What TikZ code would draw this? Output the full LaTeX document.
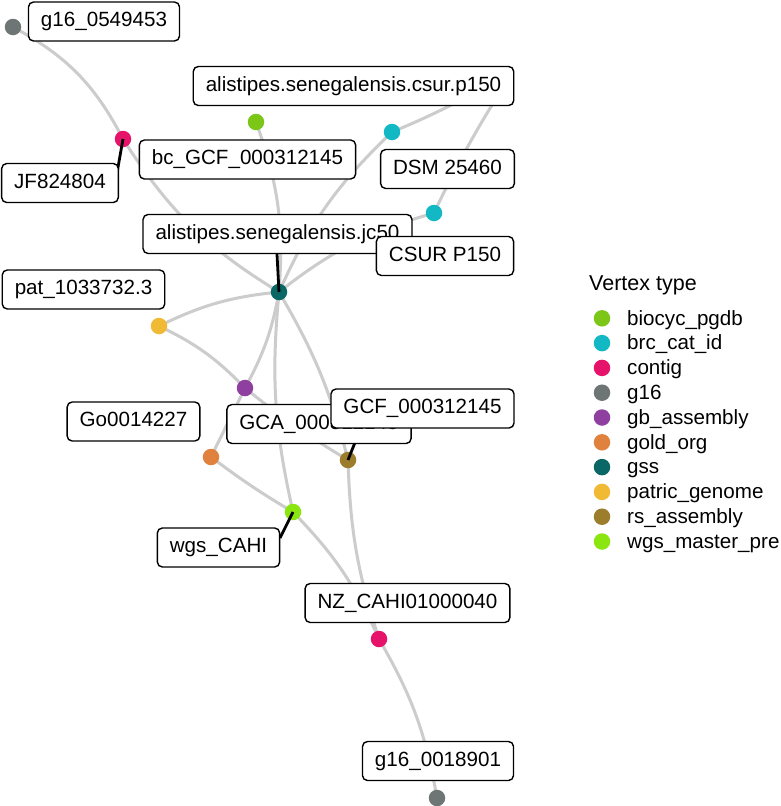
\documentclass[tikz,border=0pt]{standalone}
\usepackage{fontspec}
\setmainfont{Liberation Sans}
\definecolor{edgegray}{HTML}{CCCCCC}
\definecolor{cbiocyc}{HTML}{7CC618}
\definecolor{cbrc}{HTML}{12B9C4}
\definecolor{ccontig}{HTML}{E5136A}
\definecolor{cgsixteen}{HTML}{6E7575}
\definecolor{cgb}{HTML}{8E3FA0}
\definecolor{cgold}{HTML}{E0823D}
\definecolor{cgss}{HTML}{0B6666}
\definecolor{cpatric}{HTML}{F0BA35}
\definecolor{crs}{HTML}{9C7D2C}
\definecolor{cwgs}{HTML}{8BE510}
\begin{document}
\begin{tikzpicture}[x=1pt,y=1pt,
  edge/.style={draw=edgegray,line width=3pt},
  seg/.style={draw=black,line width=2.8pt},
  vtx/.style={circle,inner sep=0pt,minimum size=16.5pt,draw=none},
  lab/.style={draw=black,fill=white,line width=1.4pt,rounded corners=5pt,
    inner xsep=12.5pt,inner ysep=0pt,minimum height=39pt,
    text height=14.8pt,text depth=4.3pt,font=\fontsize{20.6}{24}\selectfont},
  legtext/.style={anchor=base west,inner sep=0pt,font=\fontsize{20.6}{24}\selectfont},
  legtitle/.style={anchor=base west,inner sep=0pt,font=\fontsize{21.5}{26}\selectfont},
]
\useasboundingbox (0,0) rectangle (780,-806);
\fill[white] (0,0) rectangle (780,-806);

% vertex positions
\coordinate (g16a) at (13,-27);
\coordinate (c1) at (123,-139);
\coordinate (bio) at (256,-122);
\coordinate (cy1) at (392,-132);
\coordinate (cy2) at (434,-213);
\coordinate (gss) at (279,-292);
\coordinate (pat) at (159,-326);
\coordinate (gb) at (245,-388);
\coordinate (gold) at (211,-457);
\coordinate (rs) at (348,-460);
\coordinate (wgs) at (293,-512);
\coordinate (c2) at (379,-639);
\coordinate (g16b) at (437,-798);

% edges
\draw[edge] (g16a) to[bend left=17] (c1);
\draw[edge] (c1) to[bend right=13] (gss);
\draw[edge] (bio) to[bend left=12] (gss);
\draw[edge] (cy1) to[bend right=11] (gss);
\draw[edge] (cy2) to[bend right=11] (gss);
\draw[edge] (cy1) .. controls (560,-63) and (525,-20) .. (cy2);
\draw[edge] (pat) to[bend left=10] (gss);
\draw[edge] (pat) to[bend left=10] (gb);
\draw[edge] (gss) to[bend left=9] (gb);
\draw[edge] (gss) to[bend right=9] (wgs);
\draw[edge] (gss) to[bend left=8] (rs);
\draw[edge] (gb) -- (gold);
\draw[edge] (gb) to[bend right=4] (rs);
\draw[edge] (gold) to[bend right=3] (wgs);
\draw[edge] (wgs) to[bend left=10] (c2);
\draw[edge] (rs) to[bend right=8] (c2);
\draw[edge] (c2) to[bend left=10] (g16b);

% vertices
\node[vtx,fill=cgsixteen] (n-g16a) at (g16a) {};
\node[vtx,fill=ccontig] (n-c1) at (c1) {};
\node[vtx,fill=cbiocyc] (n-bio) at (bio) {};
\node[vtx,fill=cbrc] (n-cy1) at (cy1) {};
\node[vtx,fill=cbrc] (n-cy2) at (cy2) {};
\node[vtx,fill=cgss] (n-gss) at (gss) {};
\node[vtx,fill=cpatric] (n-pat) at (pat) {};
\node[vtx,fill=cgb] (n-gb) at (gb) {};
\node[vtx,fill=cgold] (n-gold) at (gold) {};
\node[vtx,fill=crs] (n-rs) at (rs) {};
\node[vtx,fill=cwgs] (n-wgs) at (wgs) {};
\node[vtx,fill=ccontig] (n-c2) at (c2) {};
\node[vtx,fill=cgsixteen] (n-g16b) at (g16b) {};

% label segments
\coordinate (sJF) at (117,-173);
\coordinate (sJC) at (277,-254);
\coordinate (sGCF) at (360,-430);
\coordinate (sWGS) at (280,-538);
\draw[seg] (c1) -- (sJF);
\draw[seg] (gss) -- (sJC);
\draw[seg] (rs) -- (sGCF);
\draw[seg] (wgs) -- (sWGS);

% labels
\node[lab] (l-g16a) at (104,-21.5) {g16\_0549453};
\node[lab] (l-jf) at (60,-183) {JF824804};
\node[lab] (l-csur) at (353.5,-86) {alistipes.senegalensis.csur.p150};
\node[lab] (l-bc) at (247.5,-159.5) {bc\_GCF\_000312145};
\node[lab] (l-dsm) at (447.5,-169) {DSM 25460};
\node[lab] (l-jc) at (277.5,-234) {alistipes.senegalensis.jc50};
\node[lab] (l-csurp) at (445,-256) {CSUR P150};
\node[lab] (l-pat) at (83.5,-289.5) {pat\_1033732.3};
\node[lab] (l-go) at (133.5,-421.5) {Go0014227};
\node[lab] (l-gca) at (319,-424) {GCA\_000312145};
\node[lab] (l-gcf) at (422.5,-408.5) {GCF\_000312145};
\node[lab] (l-wgs) at (218.5,-547.5) {wgs\_CAHI};
\node[lab] (l-nz) at (407.5,-603) {NZ\_CAHI01000040};
\node[lab] (l-g16b) at (438,-761) {g16\_0018901};

% legend
\node[legtitle] (leg-title) at (589,-290.5) {Vertex type};
\foreach \c/\t/\y [count=\i] in {cbiocyc/biocyc\_pgdb/318.3, cbrc/brc\_cat\_id/343.1, ccontig/contig/367.9, cgsixteen/g16/392.7, cgb/gb\_assembly/417.5, cgold/gold\_org/442.3, cgss/gss/467.1, cpatric/patric\_genome/491.9, crs/rs\_assembly/516.7, cwgs/wgs\_master\_pre/541.5}{
  \node[vtx,fill=\c] (leg-dot-\i) at (602,-\y) {};
  \node[legtext] (leg-txt-\i) at (627,-\y-6.7) {\t};
}
\end{tikzpicture}
\end{document}
